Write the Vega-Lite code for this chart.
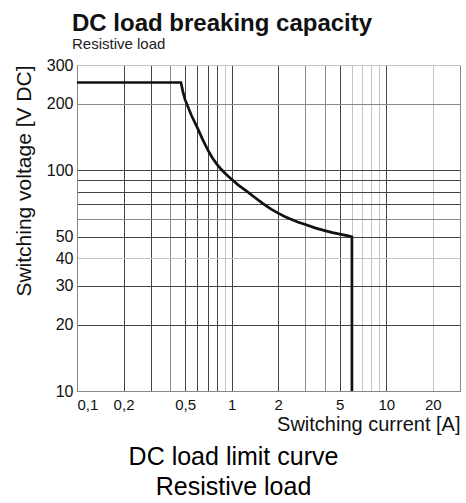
{
  "$schema": "https://vega.github.io/schema/vega-lite/v6.json",
  "width": 383,
  "height": 326,
  "autosize": {"type": "none"},
  "padding": {"left": 77, "top": 65, "right": 6, "bottom": 112},
  "background": "white",
  "config": {"view": {"stroke": null}},
  "title": {
    "text": "DC load breaking capacity",
    "subtitle": "Resistive load",
    "anchor": "start",
    "frame": "group",
    "dx": -5,
    "offset": 5,
    "font": "Liberation Sans",
    "fontSize": 24,
    "fontWeight": "bold",
    "color": "#111",
    "subtitleFont": "Liberation Sans",
    "subtitleFontSize": 15,
    "subtitleColor": "#222",
    "subtitlePadding": 1
  },
  "data": {
    "values": [
      {"current": 0.1, "voltage": 250},
      {"current": 0.47, "voltage": 250},
      {"current": 0.485, "voltage": 226},
      {"current": 0.5, "voltage": 209},
      {"current": 0.55, "voltage": 177},
      {"current": 0.6, "voltage": 156},
      {"current": 0.65, "voltage": 137.7},
      {"current": 0.7, "voltage": 124},
      {"current": 0.75, "voltage": 114},
      {"current": 0.8, "voltage": 107},
      {"current": 0.85, "voltage": 101.6},
      {"current": 0.9, "voltage": 97.5},
      {"current": 0.95, "voltage": 94},
      {"current": 1.0, "voltage": 91},
      {"current": 1.1, "voltage": 85.9},
      {"current": 1.25, "voltage": 80.5},
      {"current": 1.4, "voltage": 75.7},
      {"current": 1.58, "voltage": 71},
      {"current": 1.8, "voltage": 66.7},
      {"current": 2.0, "voltage": 64},
      {"current": 2.2, "voltage": 61.8},
      {"current": 2.38, "voltage": 60.3},
      {"current": 2.7, "voltage": 58.2},
      {"current": 3.0, "voltage": 56.8},
      {"current": 3.5, "voltage": 54.7},
      {"current": 4.0, "voltage": 53.3},
      {"current": 4.5, "voltage": 52.2},
      {"current": 5.0, "voltage": 51.4},
      {"current": 5.5, "voltage": 50.7},
      {"current": 6.0, "voltage": 50},
      {"current": 6.0, "voltage": 10}
    ]
  },
  "resolve": {"scale": {"x": "independent"}},
  "layer": [
    {
      "mark": {"type": "line", "color": "#111", "strokeWidth": 2.7},
      "encoding": {
        "x": {
          "field": "current",
          "type": "quantitative",
          "sort": null,
          "scale": {"type": "log", "domain": [0.1, 30], "nice": false},
          "axis": {
            "orient": "bottom",
            "values": [0.1, 0.2, 0.3, 0.4, 0.5, 0.6, 0.7, 0.8, 0.9, 1, 2, 3, 4, 5, 6, 7, 8, 9, 10, 20, 30],
            "labelExpr": "indexof([0.1, 0.2, 0.5, 1, 2, 5, 10, 20], datum.value) >= 0 ? replace(toString(datum.value), '.', ',') : ''",
            "labelFlush": true,
            "labelFont": "Liberation Sans",
            "labelFontSize": 15,
            "labelColor": "#111",
            "labelPadding": 6,
            "ticks": false,
            "tickSize": 0,
            "domainColor": "#888",
            "grid": true,
            "gridColor": {
              "condition": [
                {"test": "indexof([0.9, 6, 7, 8, 9, 20], datum.value) >= 0", "value": "#c4c4c4"},
                {"test": "indexof([0.4, 3, 4, 30], datum.value) >= 0", "value": "#8a8a8a"}
              ],
              "value": "#444"
            },
            "gridOpacity": 1,
            "title": "Switching current [A]",
            "titleFont": "Liberation Sans",
            "titleFontSize": 20,
            "titleFontWeight": "normal",
            "titleColor": "#111",
            "titleX": 383,
            "titleY": 39,
            "titleAlign": "right",
            "titleBaseline": "alphabetic"
          }
        },
        "y": {
          "field": "voltage",
          "type": "quantitative",
          "scale": {"type": "log", "domain": [10, 300], "nice": false},
          "axis": {
            "values": [10, 20, 30, 40, 50, 60, 70, 80, 90, 100, 200, 300],
            "labelExpr": "indexof([10, 20, 30, 40, 50, 100, 200, 300], datum.value) >= 0 ? toString(datum.value) : ''",
            "labelFont": "Liberation Sans",
            "labelFontSize": 16,
            "labelColor": "#111",
            "labelPadding": 4,
            "labelFlush": false,
            "ticks": false,
            "tickSize": 0,
            "domainColor": "#888",
            "grid": true,
            "gridColor": {
              "condition": [
                {"test": "indexof([300, 40], datum.value) >= 0", "value": "#c4c4c4"},
                {"test": "indexof([60, 200], datum.value) >= 0", "value": "#8a8a8a"}
              ],
              "value": "#444"
            },
            "gridOpacity": 1,
            "title": "Switching voltage [V DC]",
            "titleFont": "Liberation Sans",
            "titleFontSize": 21,
            "titleFontWeight": "normal",
            "titleColor": "#111",
            "titleAngle": 270,
            "titleX": -47,
            "titleY": 0,
            "titleAlign": "right",
            "titleBaseline": "alphabetic"
          }
        }
      }
    },
    {
      "mark": {"type": "line", "opacity": 0},
      "encoding": {
        "x": {
          "field": "current",
          "type": "quantitative",
          "scale": {"type": "log", "domain": [0.1, 30], "nice": false},
          "axis": {
            "orient": "bottom",
            "labels": false,
            "ticks": false,
            "domain": false,
            "grid": false,
            "title": ["DC load limit curve", "Resistive load"],
            "titleFont": "Liberation Sans",
            "titleFontSize": 25,
            "titleFontWeight": "normal",
            "titleColor": "#000",
            "titleX": 156,
            "titleY": 53,
            "titleAlign": "center",
            "titleBaseline": "top",
            "titleLineHeight": 30
          }
        },
        "y": {"field": "voltage", "type": "quantitative"}
      }
    }
  ]
}
